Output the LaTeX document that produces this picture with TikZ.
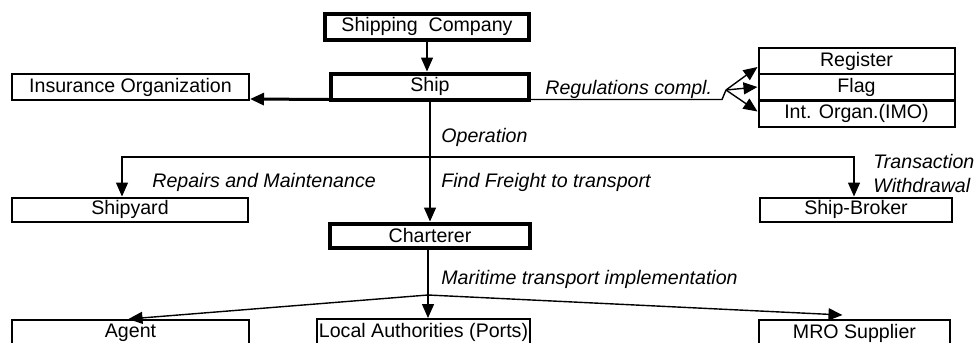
\documentclass[tikz,border=0pt]{standalone}
\usepackage{fontspec}
\setmainfont{Liberation Sans}
\usetikzlibrary{arrows.meta}

\begin{document}
\begin{tikzpicture}[x=0.5pt, y=-0.5pt,
    font=\fontsize{9.8}{12}\selectfont,
    box/.style={draw, line width=1pt, minimum height=13pt, inner sep=0pt},
    mainbox/.style={box, line width=2pt},
    link/.style={line width=0.7pt},
    arrow/.style={link, -{Triangle[length=7pt, width=6pt]}},
    note/.style={anchor=west, inner sep=0pt, font=\fontsize{9.8}{12}\selectfont\itshape}]
    \useasboundingbox (0,0) rectangle (976,343);

    % Owner, ship and insurance
    \node[mainbox, minimum width=102pt] (company) at (427,26.5) {Shipping\ \ Company};
    \node[mainbox, minimum width=99pt] (ship) at (430,86.5) {Ship};
    \node[box, minimum width=118.5pt] (insurance) at (130.5,87) {Insurance Organization};
    \draw[arrow] (company.south) -- (company.south |- ship.north);
    \draw[arrow, line width=1.5pt] ([yshift=1pt]ship.south west) -- ([yshift=1pt]insurance.south east);

    % Regulations
    \node[box, minimum width=98pt] (register) at (856.5,61) {Register\hspace{21pt}};
    \node[box, minimum width=98pt] (flag) at (856.5,87) {Flag};
    \node[box, minimum width=98pt] (imo) at (856.5,113.5) {Int. Organ.(IMO)\hspace{11pt}};
    \coordinate (regfork) at (726,90);
    \draw[link] ([yshift=1pt]ship.south east) -- (722,99.5) -- (regfork);
    \draw[arrow] (regfork) -- ([yshift=-3pt]register.west);
    \draw[arrow] (regfork) -- (flag.west);
    \draw[arrow] (regfork) -- ([yshift=1pt]imo.west);
    \node[note] (reglabel) at (545,89) {Regulations compl.};

    % Operation
    \node[box, minimum width=118pt, minimum height=12pt] (shipyard) at (130,209.5) {Shipyard};
    \node[box, minimum width=96pt, minimum height=12pt] (broker) at (856,209.5) {Ship-Broker};
    \node[mainbox, minimum width=100pt, minimum height=12pt] (charterer) at (430,235.5) {Charterer};
    \coordinate (opfork) at (ship.south |- 0,157);
    \draw[arrow] (ship.south) -- (ship.south |- charterer.north);
    \draw[arrow] (opfork) -| ([xshift=-4pt]shipyard.north);
    \draw[arrow] (opfork) -| ([xshift=-1pt]broker.north);
    \node[note] (oplabel) at (441,137) {Operation};
    \node[note] (repairlabel) at (152,182) {Repairs and Maintenance};
    \node[note] (freightlabel) at (441,182) {Find Freight to transport};
    \node[note, align=left] (translabel) at (873,173) {Transaction\\Withdrawal};

    % Maritime transport
    \node[box, minimum width=118.5pt] (agent) at (130.5,333) {Agent};
    \node[box, minimum width=106.5pt] (ports) at (423.5,332) {Local Authorities (Ports)};
    \node[box, minimum width=95.5pt] (mro) at (854.5,333) {MRO Supplier};
    \coordinate (mtfork) at (428,295);
    \draw[link] (charterer.south -| mtfork) -- (mtfork);
    \draw[arrow] (mtfork) -- ([xshift=-1pt]agent.north);
    \draw[arrow] (mtfork) -- (mtfork |- ports.north);
    \draw[arrow] (mtfork) -- ([xshift=-6pt, yshift=2pt]mro.north);
    \node[note] (mtlabel) at (441,279) {Maritime transport implementation};
\end{tikzpicture}
\end{document}
